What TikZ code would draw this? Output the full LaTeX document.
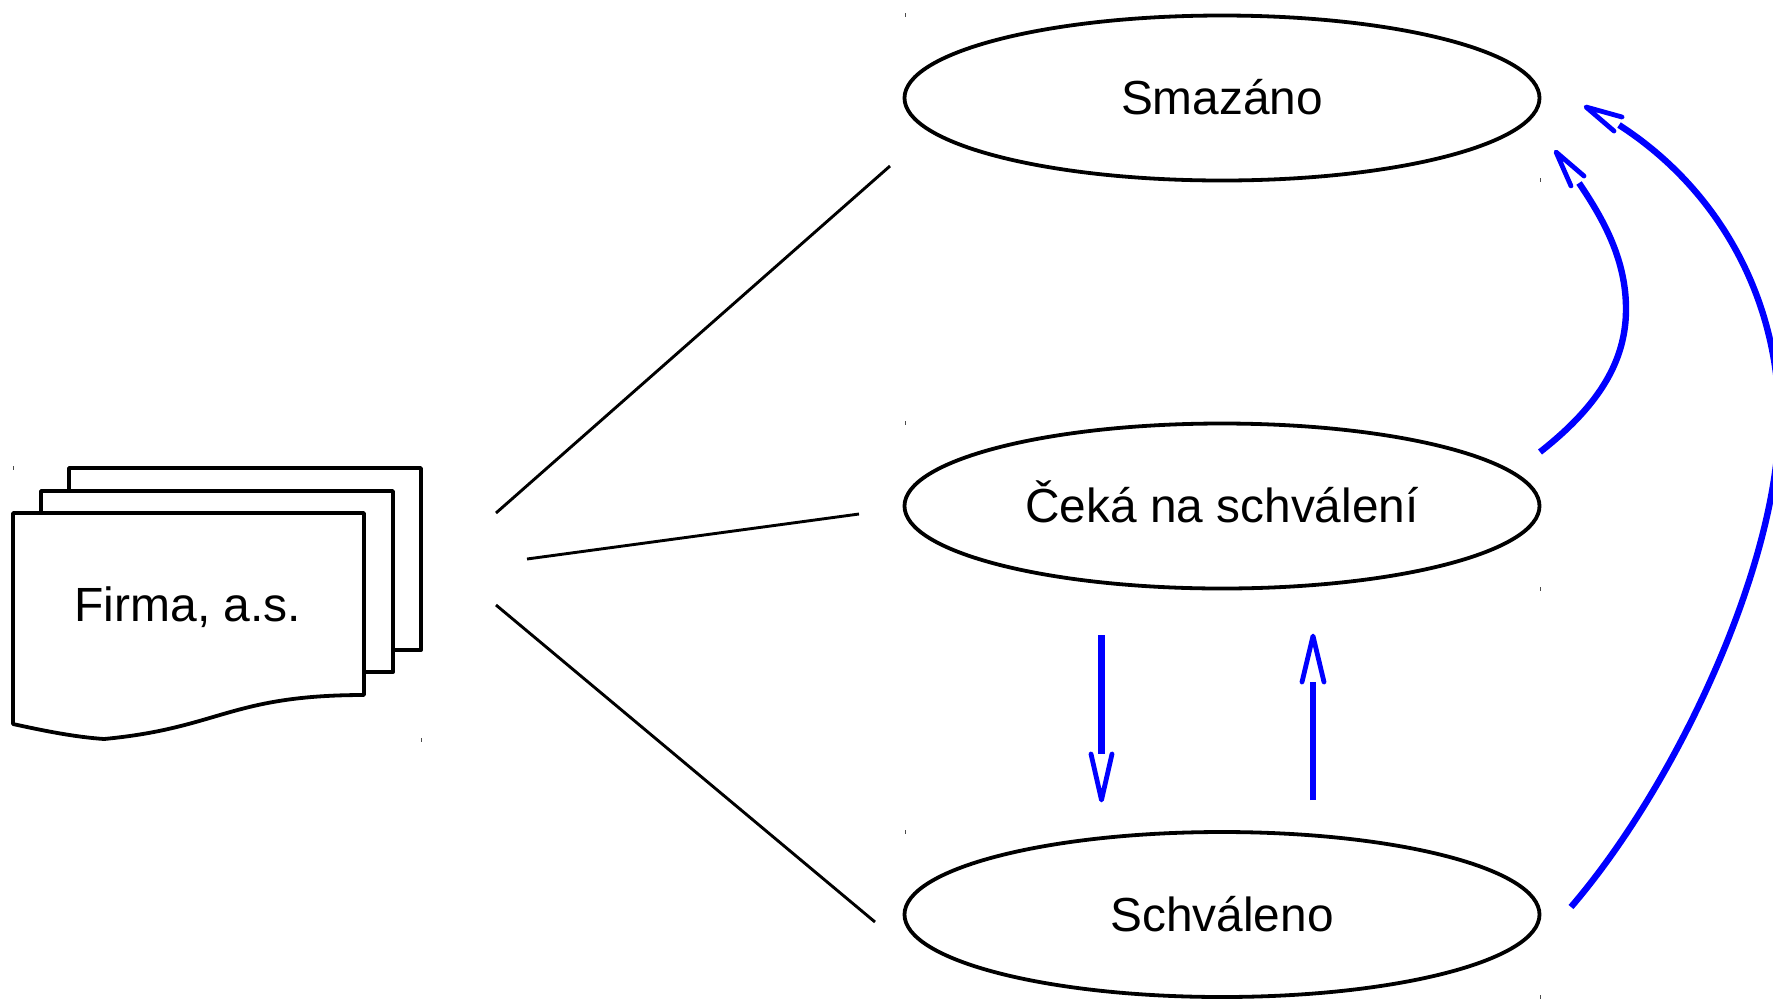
\documentclass[tikz,border=0pt]{standalone}
\usepackage{fontspec}
\setmainfont{Liberation Sans}
\usetikzlibrary{shapes.geometric}
\tikzset{
  statenode/.style={ellipse,draw=black,line width=1.9pt,minimum width=317.5pt,minimum height=82.5pt,inner sep=0pt,outer sep=0pt,font=\fontsize{23.9}{28}\selectfont,text height=16.8pt,text depth=0pt},
  sheet/.style={draw=black,fill=white,line width=1.9pt,line join=round},
  doctext/.style={inner sep=0pt,font=\fontsize{24}{28}\selectfont,text height=19pt,text depth=0pt},
  link/.style={draw=black,line width=1.45pt},
  flow/.style={draw=blue,line width=3.2pt},
  barb/.style={draw=blue,line width=2.4pt,line cap=round,line join=round},
  speck/.style={draw=black!70,line width=0.4pt}
}
\begin{document}
\begin{tikzpicture}[x=0.5pt,y=-0.5pt]
\useasboundingbox (0,0) rectangle (1773,998);
\clip (0,0) rectangle (1773,998);
% sheets
\draw[sheet] (69,513) -- (69,468) -- (421,468) -- (421,650) -- (364,650);
\draw[sheet] (41,513) -- (41,491) -- (393,491) -- (393,672) -- (364,672);
\draw[sheet] (13,513) -- (364,513) -- (364,695) .. controls (230,695) and (220,728) .. (104,739) .. controls (75,737) and (45,731) .. (13,724) -- cycle;
\node[doctext] (firma) at (188,602.5) {Firma, a.s.};
% states
\node[statenode] (smazano) at (1222,98) {Smazáno};
\node[statenode] (ceka) at (1222,506) {Čeká na schválení};
\node[statenode] (schvaleno) at (1222,914.5) {Schváleno};
% link ends
\coordinate (a1) at (496,513); \coordinate (a2) at (890,166);
\coordinate (b1) at (527,559); \coordinate (b2) at (859,514);
\coordinate (c1) at (496,605); \coordinate (c2) at (875,922);
\draw[link] (a1) -- (a2);
\draw[link] (b1) -- (b2);
\draw[link] (c1) -- (c2);
% vertical arrows
\coordinate (d1) at (1101.5,635); \coordinate (d2) at (1101.5,754);
\coordinate (u1) at (1313,800); \coordinate (u2) at (1313,682);
\draw[flow] (d1) -- (d2);
\draw[barb] (1091,754) -- (1101.5,800) -- (1112,754);
\draw[flow] (u1) -- (u2);
\draw[barb] (1302,682) -- (1313,636) -- (1324,682);
% curved arrows
\coordinate (e1) at (1540,452); \coordinate (e2) at (1579,183);
\draw[flow] (e1) .. controls (1600,405) and (1626,360) .. (1626,309) .. controls (1626,260) and (1604,220) .. (e2);
\draw[barb] (1584,176) -- (1556,152) -- (1571,186);
\coordinate (f1) at (1571,907); \coordinate (f2) at (1619,125);
\draw[flow] (f1) .. controls (1680,780) and (1779,560) .. (1779,420) .. controls (1779,300) and (1720,190) .. (f2);
\draw[barb] (1622,117) -- (1586,107) -- (1614,131);
% specks
\foreach \px/\py in {905/15,1540/180,905/423,1540/589,905/832,1540/997,13/468,421/740}
  \draw[speck] (\px,\py-2) -- (\px,\py+2);
\end{tikzpicture}
\end{document}
